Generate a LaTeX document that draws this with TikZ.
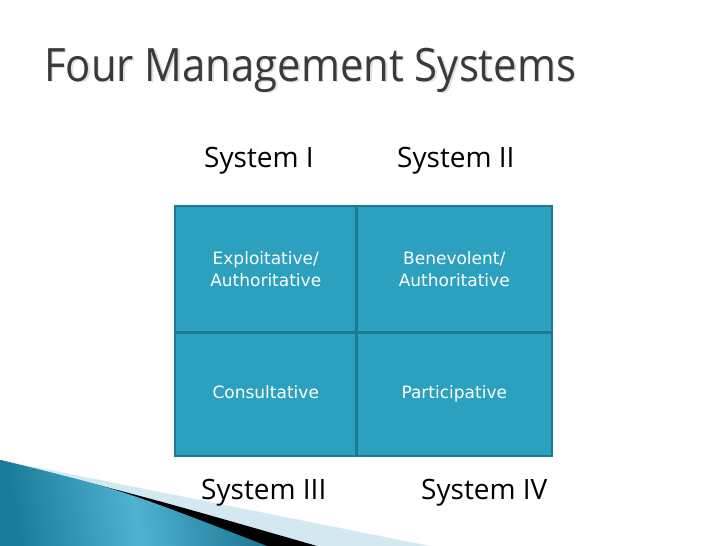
\documentclass[tikz,border=0pt]{standalone}
\usepackage{fontspec}
\setmainfont{Open Sans}
\newfontfamily\cellfont{DejaVu Sans}
\definecolor{cellfill}{HTML}{2CA1BF}
\definecolor{cellline}{HTML}{1F7892}
\definecolor{titlegray}{HTML}{3A3A3A}
\definecolor{lightwedge}{HTML}{D3E8F0}
\definecolor{tealdark}{HTML}{1A7C98}
\definecolor{tealend}{HTML}{1C7895}
\definecolor{teallight}{HTML}{50B2D2}
\begin{document}
\begin{tikzpicture}[x=1pt,y=-1pt,
  cellbox/.style={draw=cellline, line width=2.8pt, fill=cellfill, text=white,
    font=\cellfont\fontsize{17}{22}\selectfont, align=center, inner sep=0pt},
  oneline/.style={text height=12.5pt, text depth=3.5pt},
  syslabel/.style={font=\fontsize{28}{34}\selectfont, anchor=base west, inner sep=0pt, text=black},
  titletext/.style={font=\fontsize{46}{50}\selectfont, anchor=base west, inner sep=0pt, xscale=0.91}]
\useasboundingbox (0,0) rectangle (728,546);
\fill[white] (0,0) rectangle (728,546);

% title
\node[titletext, text=gray!25] (tshadow) at (45.5,82.5) {Four Management Systems};
\node[titletext, text=titlegray] (title) at (44,81) {Four Management Systems};

% decoration bottom left
\fill[lightwedge] (0,460) -- (430,546) -- (0,546) -- cycle;
\fill[black] (0,460) .. controls (150,498) .. (317,546) -- (0,546) -- cycle;
\shade[left color=tealdark, right color=tealend, middle color=teallight, shading angle=100]
  (0,460) .. controls (120,489) .. (267,546) -- (0,546) -- cycle;

% grid
\node[cellbox, minimum width=181.5pt, minimum height=126.5pt] (c1) at (265.75,269.25) {Exploitative/\\Authoritative};
\node[cellbox, minimum width=195.5pt, minimum height=126.5pt] (c2) at (454.25,269.25) {Benevolent/\\Authoritative};
\node[cellbox, oneline, minimum width=181.5pt, minimum height=123.5pt] (c3) at (265.75,394.25) {Consultative};
\node[cellbox, oneline, minimum width=195.5pt, minimum height=123.5pt] (c4) at (454.25,394.25) {Participative};

% labels
\node[syslabel] (s1) at (204,167) {System I};
\node[syslabel] (s2) at (397,167) {System II};
\node[syslabel] (s3) at (201,499) {System III};
\node[syslabel] (s4) at (421,499) {System IV};
\end{tikzpicture}
\end{document}
